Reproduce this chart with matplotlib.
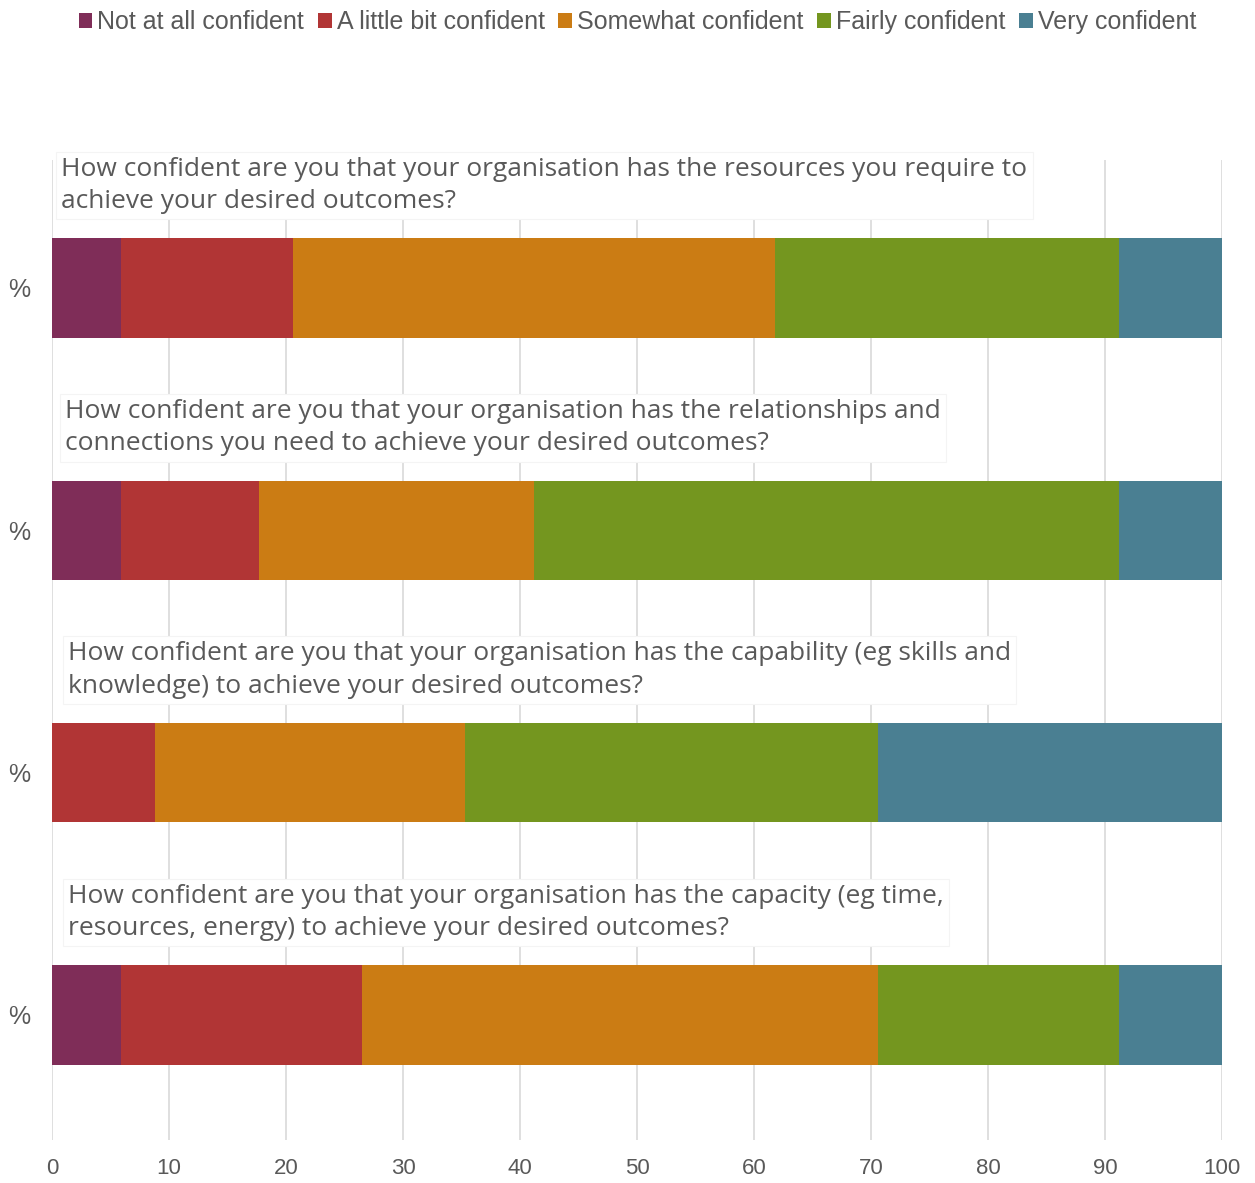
import matplotlib
matplotlib.use("Agg")
import matplotlib.pyplot as plt
import numpy as np

# Survey responses (% of respondents) for each confidence question
questions = [
    "How confident are you that your organisation has the resources you require to\nachieve your desired outcomes?",
    "How confident are you that your organisation has the relationships and\nconnections you need to achieve your desired outcomes?",
    "How confident are you that your organisation has the capability (eg skills and\nknowledge) to achieve your desired outcomes?",
    "How confident are you that your organisation has the capacity (eg time,\nresources, energy) to achieve your desired outcomes?",
]
categories = ["Not at all confident", "A little bit confident", "Somewhat confident",
              "Fairly confident", "Very confident"]
not_at_all = [5.9, 5.9, 0.0, 5.9]
little_bit = [14.7, 11.8, 8.8, 20.6]
somewhat = [41.2, 23.5, 26.5, 44.1]
fairly = [29.4, 50.0, 35.3, 20.6]
very = [8.8, 8.8, 29.4, 8.8]
row_labels = ["%", "%", "%", "%"]
x_ticks = [0, 10, 20, 30, 40, 50, 60, 70, 80, 90, 100]

colors = ["#7f2d58", "#b13535", "#cb7c14", "#74961f", "#4a7f92"]
series = [not_at_all, little_bit, somewhat, fairly, very]

text_gray = "#595959"
W, H = 1255, 1183
fig = plt.figure(figsize=(W / 100, H / 100), dpi=100)
ax = fig.add_axes([52 / W, 1 - 1140 / H, (1222 - 52) / W, (1140 - 160) / H])

y = np.arange(len(questions))
left = np.zeros(len(questions))
handles = []
for vals, col, lab in zip(series, colors, categories):
    b = ax.barh(y, vals, left=left, height=0.41, color=col, label=lab, zorder=3)
    handles.append(b)
    left += np.array(vals)

ax.set_xlim(0, 100)
ax.set_ylim(3.516, -0.528)
ax.set_xticks(x_ticks)
ax.set_xticklabels([str(t) for t in x_ticks], family="Liberation Sans",
                   fontsize=16, color=text_gray)
ax.set_yticks(y)
ax.set_yticklabels(row_labels, family="Liberation Sans", fontsize=18, color=text_gray)
ax.tick_params(axis="both", length=0)
ax.tick_params(axis="x", pad=13)
ax.tick_params(axis="y", pad=16)
ax.grid(axis="x", color="#d9d9d9", linewidth=1.2, zorder=0)
for s in ax.spines.values():
    s.set_visible(False)

# Question titles above each bar, on white boxes that hide the grid
title_x = [0.8, 1.1, 1.35, 1.35]
for i, q in enumerate(questions):
    ax.text(title_x[i], i - 0.305, q, family="Open Sans", fontsize=19,
            color=text_gray, ha="left", va="bottom", linespacing=1.38, zorder=4,
            bbox=dict(boxstyle="square,pad=0.2", facecolor="white",
                      edgecolor="#f4f4f4", linewidth=0.8))

fig.legend(handles=handles, labels=categories, loc="upper center",
           bbox_to_anchor=(0.508, 1.0), ncol=5, frameon=False,
           prop=dict(family="Liberation Sans", size=18),
           labelcolor=text_gray, handlelength=0.55, handleheight=0.55,
           handletextpad=0.2, columnspacing=0.55, borderaxespad=0.0)

fig.savefig("out.png", dpi=100, facecolor="white")
